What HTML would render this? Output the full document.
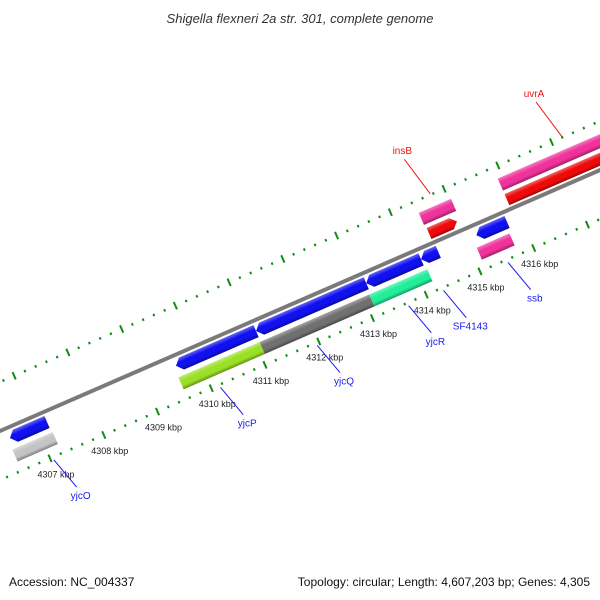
<!DOCTYPE html>
<html><head><meta charset="utf-8"><style>
html,body{margin:0;padding:0;background:#fff}
svg{display:block;font-family:"Liberation Sans",sans-serif}
</style></head><body>
<svg id="map" width="600" height="600" viewBox="0 0 600 600">
<defs>
<linearGradient id="gShade" x1="0" y1="0" x2="0" y2="1">
<stop offset="0" stop-color="#fff" stop-opacity="0.35"/>
<stop offset="0.35" stop-color="#fff" stop-opacity="0"/>
<stop offset="0.7" stop-color="#000" stop-opacity="0"/>
<stop offset="1" stop-color="#000" stop-opacity="0.35"/>
</linearGradient>
</defs>
<text x="300" y="23" text-anchor="middle" font-size="13" font-style="italic" fill="#333">Shigella flexneri 2a str. 301, complete genome</text>
<g id="band" transform="translate(0,431) rotate(-23.5)"></g>
<g id="labels"></g>
<text x="9" y="586" font-size="12" fill="#111">Accession: NC_004337</text>
<text x="590" y="586" font-size="12" fill="#111" text-anchor="end">Topology: circular; Length: 4,607,203 bp; Genes: 4,305</text>
</svg>
<script>
// data (kbp)
const tickStart = 4306, tickEnd = 4319;
const tickLabels = [4307,4308,4309,4310,4311,4312,4313,4314,4315,4316];
const featStart = [4306.51,4309.60,4311.09,4313.14,4314.16,4315.19, 4306.47,4309.56,4311.07,4313.11,4315.11, 4314.46,4315.91, 4314.44,4315.91];
const featEnd   = [4307.20,4311.09,4313.14,4314.16,4314.48,4315.76, 4307.22,4311.07,4313.11,4314.19,4315.72, 4314.98,4318.7, 4315.04,4318.7];
const featTrack = ['ri','ri','ri','ri','ri','ri','ro','ro','ro','ro','ro','fi','fi','fo','fo'];
const featColor = ['#1010f0','#1010f0','#1010f0','#1010f0','#1010f0','#1010f0','#c4c4c4','#99e026','#707070','#22ee99','#f0329b','#ee0a0a','#ee0a0a','#f0329b','#f0329b'];
const featArrow = ['L','L','L','L','L','L','','','','','','R','','',''];
const geneNames = ['yjcO','yjcP','yjcQ','yjcR','SF4143','ssb','insB','uvrA'];
const genePos   = [4307.05,4310.15,4311.95,4313.65,4314.3,4315.5,4314.75,4317.2];
const geneSide  = ['in','in','in','in','in','in','out','out'];

const U0 = 35, PX = 58.6, ANG = 23.5*Math.PI/180;
const uOf = k => U0 + (k-4307)*PX;
const toScreen = (u,v) => [u*Math.cos(ANG)+v*Math.sin(ANG), 431 - u*Math.sin(ANG) + v*Math.cos(ANG)];
const NS = 'http://www.w3.org/2000/svg';
const band = document.getElementById('band');
const labels = document.getElementById('labels');
function mk(tag, attrs, parent){const e=document.createElementNS(NS,tag);for(const k in attrs)e.setAttribute(k,attrs[k]);parent.appendChild(e);return e;}

// backbone
const bb = mk('rect',{x:-100,y:-2,width:900,height:4,fill:'#7a7a7a'},band);



// ticks
for(let i=Math.round(tickStart*5); i<=tickEnd*5; i++){
  const k=i/5, u=uOf(k), major=(i%5===0);
  const len = major?8:2.5, w = major?2:2;
  [45,-45].forEach(y=>{
    const t=mk('line',{x1:u,y1:y-len/2,x2:u,y2:y+len/2,stroke:'#138a13','stroke-width':w},band);
    
    
  });
}
tickLabels.forEach(k=>{
  const [x,y]=toScreen(uOf(k),45);
  const t=mk('text',{x:x+6,y:y+19,'font-size':9,'text-anchor':'middle',fill:'#222'},labels);
  t.textContent=k+' kbp';
  
  
});

// features
const trackY = {fo:[-33,-20], fi:[-16,-4], ri:[4,17], ro:[22,35]};
featStart.forEach((s,i)=>{
  const a=uOf(s), b=uOf(featEnd[i]), [y0,y1]=trackY[featTrack[i]], ym=(y0+y1)/2, h=6;
  let d;
  if(featArrow[i]==='L') d=`M${a},${ym} L${a+h},${y0} L${b},${y0} L${b},${y1} L${a+h},${y1} Z`;
  else if(featArrow[i]==='R') d=`M${a},${y0} L${b-h},${y0} L${b},${ym} L${b-h},${y1} L${a},${y1} Z`;
  else d=`M${a},${y0} L${b},${y0} L${b},${y1} L${a},${y1} Z`;
  const p=mk('path',{d:d,fill:featColor[i]},band);
  
  
  const s2=mk('path',{d:d,fill:'url(#gShade)'},band);
  
  
});

// gene labels
geneNames.forEach((n,i)=>{
  const u=uOf(genePos[i]);
  const out=geneSide[i]==='out';
  const col=out?'#ee1111':'#1a1aee';
  const [x1,y1]=toScreen(u, out?-46:48);
  const [x2,y2]=toScreen(u+(out?-10:10), out?-88:82);
  const l=mk('line',{x1:x1,y1:y1,x2:x2,y2:y2,stroke:col,'stroke-width':1},labels);
  
  
  const t=mk('text',{x:x2+(out?-2:4),y:out?y2-5:y2+12,'font-size':10,'text-anchor':'middle',fill:col},labels);
  t.textContent=n;
  
  
});
</script>
</body></html>
